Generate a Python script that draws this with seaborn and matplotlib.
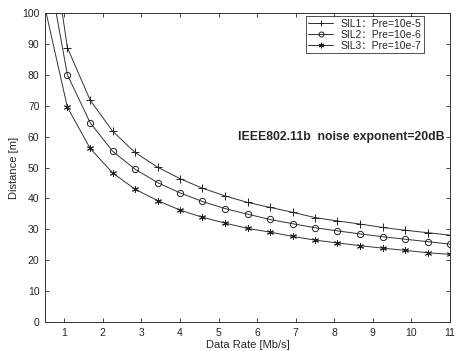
import numpy as np
import pandas as pd
import matplotlib
matplotlib.use("Agg")
import matplotlib.pyplot as plt
import seaborn as sns

# data rate points (Mb/s) and distances (m)
rate = [0.5, 1.08, 1.67, 2.25, 2.83, 3.42, 4.0, 4.58, 5.17, 5.75,
        6.33, 6.92, 7.5, 8.08, 8.67, 9.25, 9.83, 10.42, 11.0]
sil1 = [138, 88.8, 71.8, 61.8, 54.9, 50.1, 46.4, 43.3, 40.8, 38.7,
        37.1, 35.5, 33.8, 32.7, 31.7, 30.6, 29.7, 28.9, 28.1]
sil2 = [120, 80.0, 64.5, 55.3, 49.5, 45.1, 41.8, 39.0, 36.7, 34.9,
        33.2, 31.8, 30.5, 29.5, 28.5, 27.6, 26.8, 26.0, 25.2]
sil3 = [101.7, 69.5, 56.2, 48.3, 43.0, 39.3, 36.2, 33.9, 32.0, 30.3,
        29.1, 27.7, 26.5, 25.6, 24.7, 23.9, 23.2, 22.4, 21.9]
labels = ["SIL1：Pre=10e-5", "SIL2：Pre=10e-6", "SIL3：Pre=10e-7"]
markers = ["+", "o", (6, 2, 0)]
msizes = [6, 4.5, 5]

sns.set_style("ticks")
plt.rcParams['font.family'] = ['Liberation Sans', 'Noto Sans CJK SC']
plt.rcParams['xtick.direction'] = 'in'
plt.rcParams['ytick.direction'] = 'in'

fig = plt.figure(figsize=(4.57, 3.51), dpi=100)
ax = fig.add_axes([45 / 457, 1 - 322 / 351, 405 / 457, 309 / 351])

for vals, lab, mk, ms in zip([sil1, sil2, sil3], labels, markers, msizes):
    df = pd.DataFrame({"rate": rate, "dist": vals})
    sns.lineplot(data=df, x="rate", y="dist", ax=ax, color="#333333",
                 linewidth=0.7, marker=mk, markersize=ms,
                 markerfacecolor="none", markeredgecolor="#222222",
                 markeredgewidth=0.7, label=lab)

ax.set_xlim(0.5, 11)
ax.set_ylim(0, 100)
ax.set_xticks(range(1, 12))
ax.set_yticks(range(0, 101, 10))
ax.tick_params(top=True, right=True, labelsize=7.5, length=3, width=0.6, pad=4)
for s in ax.spines.values():
    s.set_linewidth(0.7)
    s.set_color("#333333")
ax.set_xlabel("Data Rate [Mb/s]", fontsize=8, labelpad=2)
ax.set_ylabel("Distance [m]", fontsize=8, labelpad=2)

ax.text(10.85, 60.0, "IEEE802.11b  noise exponent=20dB", fontsize=8.8,
        fontweight="bold", ha="right", va="center")

leg = ax.legend(loc="upper right", bbox_to_anchor=(424 / 457, 1 - 16 / 351),
                bbox_transform=fig.transFigure, borderaxespad=0,
                fontsize=7.5, frameon=True, fancybox=False,
                handlelength=2.4, labelspacing=0.1, markerscale=0.8,
                borderpad=0.25, handletextpad=0.7)
leg.get_frame().set_edgecolor("black")
leg.get_frame().set_linewidth(0.6)

fig.savefig("out.png", dpi=100)
